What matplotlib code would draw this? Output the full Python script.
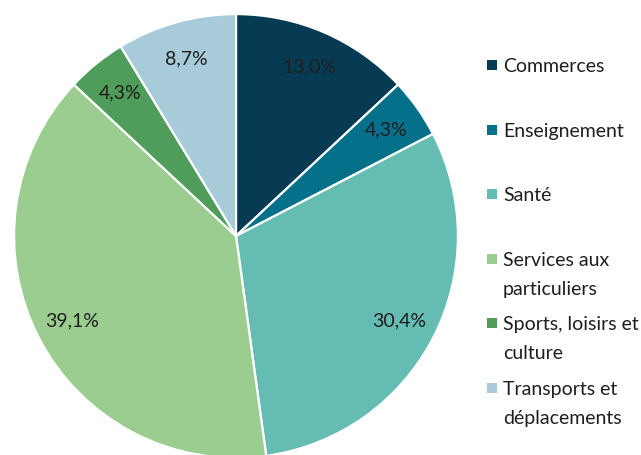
import matplotlib
matplotlib.use("Agg")
import matplotlib.pyplot as plt
from matplotlib.patches import Rectangle

categories = ["Commerces", "Enseignement", "Santé", "Services aux\nparticuliers",
              "Sports, loisirs et\nculture", "Transports et\ndéplacements"]
values = [3, 1, 7, 9, 1, 2]
colors = ["#073B53", "#05708A", "#65BCB3", "#9CCD90", "#4F9C5B", "#A8CBDA"]

plt.rcParams['font.family'] = ['Lato', 'DejaVu Sans']
text_color = "#1e1e1e"
fs = 14

W, H = 641, 455
fig = plt.figure(figsize=(W / 100, H / 100), dpi=100)
cx, cy, r = 236, 236, 223
ax = fig.add_axes([(cx - r) / W, (H - cy - r) / H, 2 * r / W, 2 * r / H])

wedges, texts, autotexts = ax.pie(
    values, colors=colors, startangle=90, counterclock=False, radius=1,
    autopct=lambda p: f"{p:.1f}%".replace(".", ","), pctdistance=0.83,
    wedgeprops=dict(edgecolor="white", linewidth=1.6),
    textprops=dict(color=text_color, fontsize=fs))
ax.set_xlim(-1.005, 1.005)
ax.set_ylim(-1.005, 1.005)
ax.set_aspect("equal")
ax.axis("off")

# legend drawn manually so the marker lines up with the first text line
x_sq, x_txt = 487, 503
y0, step, line_gap = 65, 64.6, 29
sq = 10
for i, (lab, col) in enumerate(zip(categories, colors)):
    y = y0 + i * step
    fig.patches.append(Rectangle((x_sq / W, (H - y - sq / 2) / H), sq / W, sq / H,
                                 transform=fig.transFigure, facecolor=col,
                                 edgecolor="none", figure=fig))
    for k, line in enumerate(lab.split("\n")):
        fig.text(x_txt / W, (H - y - k * line_gap) / H, line, ha="left",
                 va="center_baseline", fontsize=fs, color=text_color)

fig.savefig("out.png", dpi=100)
